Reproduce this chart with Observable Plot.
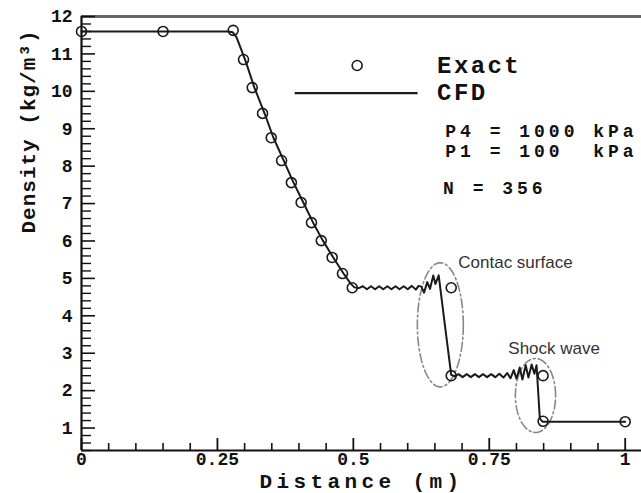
<!DOCTYPE html>
<html>
<head>
<meta charset="utf-8">
<script src="https://cdn.jsdelivr.net/npm/d3@7"></script>
<script src="https://cdn.jsdelivr.net/npm/@observablehq/plot@0.6"></script>
<style>
  html, body { margin: 0; padding: 0; background: #fff; }
  #chart { width: 641px; height: 493px; overflow: hidden; }
</style>
</head>
<body>
<div id="chart"></div>
<script>
// Shock tube density profile: exact solution (circles) vs CFD result (line)

// Exact solution samples
const exactX = [0, 0.15, 0.279, 0.298, 0.314, 0.333, 0.349, 0.368, 0.386, 0.404, 0.423,
                0.441, 0.461, 0.480, 0.498, 0.680, 0.680, 0.849, 0.849, 1.0];
const exactY = [11.6, 11.6, 11.63, 10.85, 10.10, 9.41, 8.76, 8.15, 7.56, 7.03, 6.49,
                6.01, 5.56, 5.13, 4.75, 4.75, 2.40, 2.40, 1.18, 1.17];

// CFD density profile (N = 356)
const cfdX = [0, 0.27, 0.278, 0.285, 0.293, 0.302, 0.318, 0.337, 0.353, 0.372, 0.390,
              0.408, 0.426, 0.444, 0.463, 0.482, 0.495, 0.502, 0.510,
              0.5175, 0.525, 0.5325, 0.540, 0.5475, 0.555, 0.5625, 0.570, 0.5775, 0.585,
              0.5925, 0.600, 0.6075, 0.615, 0.620, 0.625, 0.630, 0.636, 0.641, 0.647,
              0.651, 0.657, 0.668, 0.680, 0.686,
              0.6935, 0.701, 0.7085, 0.716, 0.7235, 0.731, 0.7385, 0.746, 0.7535, 0.761,
              0.7685, 0.776, 0.783, 0.789, 0.795, 0.800, 0.806, 0.811, 0.817, 0.822,
              0.828, 0.833, 0.837, 0.843, 0.848, 1.0];
const cfdY = [11.6, 11.6, 11.58, 11.45, 11.15, 10.8, 10.1, 9.4, 8.76, 8.15, 7.56,
              7.03, 6.49, 6.01, 5.56, 5.13, 4.86, 4.76, 4.74,
              4.79, 4.71, 4.79, 4.71, 4.79, 4.71, 4.79, 4.71, 4.79, 4.71,
              4.79, 4.71, 4.80, 4.70, 4.80, 4.78, 4.62, 4.90, 4.72, 5.08,
              4.85, 5.08, 3.80, 2.42, 2.38,
              2.44, 2.36, 2.44, 2.36, 2.44, 2.36, 2.44, 2.36, 2.44, 2.36,
              2.45, 2.35, 2.47, 2.33, 2.55, 2.32, 2.62, 2.30, 2.68, 2.35,
              2.70, 2.45, 2.68, 1.25, 1.17, 1.17];

// Axis ticks
const xTickValues = [0, 0.25, 0.5, 0.75, 1];
const xTickLabels = ["0", "0.25", "0.5", "0.75", "1"];
const yTickValues = [1, 2, 3, 4, 5, 6, 7, 8, 9, 10, 11, 12];
const yTickLabels = ["1", "2", "3", "4", "5", "6", "7", "8", "9", "10", "11", "12"];

// Legend and run parameters
const legendLabels = ["Exact", "CFD"];
const paramLines = ["P4 = 1000 kPa", "P1 = 100  kPa"];
const gridLine = "N = 356";
const notes = ["Contac surface", "Shock wave"];
const xTitle = "Distance (m)";
const yTitle = "Density (kg/m³)";

const exact = exactX.map((x, i) => ({x, y: exactY[i]}));
const cfd = cfdX.map((x, i) => ({x, y: cfdY[i]}));

const xMinor = d3.range(1, 21).map(i => i / 20).filter(v => !xTickValues.includes(v));
const yMinor = d3.range(2, 60).map(i => i / 5).filter(v => !Number.isInteger(v));

// Dash-dot ellipses around the contact surface and the shock
function ellipse(cx, cy, rx, ry, id) {
  return d3.range(0, 73).map(i => {
    const t = (i / 72) * 2 * Math.PI;
    return {x: cx + rx * Math.cos(t), y: cy + ry * Math.sin(t), id};
  });
}
const rings = [
  ...ellipse(0.660, 3.76, 0.0423, 1.66, "contact"),
  ...ellipse(0.835, 1.87, 0.037, 0.99, "shock")
];

const mono = "'Liberation Mono', 'DejaVu Sans Mono', monospace";
const sans = "'Liberation Sans', Arial, sans-serif";
const ink = "#111";

const monoText = (label, size, opts) =>
  Plot.text([label], {textAnchor: "start", lineAnchor: "middle", fontSize: size,
    fontWeight: "bold", fontFamily: mono, fill: ink, ...opts});

const chart = Plot.plot({
  width: 641,
  height: 493,
  marginLeft: 81,
  marginRight: 0,
  marginTop: 16,
  marginBottom: 43,
  x: {domain: [0, 1.03]},
  y: {domain: [0.4, 12]},
  style: {background: "#fff", color: ink, fontFamily: mono},
  marks: [
    // frame lines
    Plot.ruleY([12], {stroke: "#666", strokeWidth: 3}),
    Plot.ruleY([0.4], {stroke: ink, strokeWidth: 2.2}),
    Plot.ruleX([0], {stroke: ink, strokeWidth: 2.2}),

    // inward ticks
    Plot.axisX({ticks: xMinor, tickSize: -7, tickFormat: () => "", label: null, strokeWidth: 1.6}),
    Plot.axisX({ticks: xTickValues, tickSize: -12, tickFormat: () => "", label: null, strokeWidth: 1.8}),
    Plot.axisY({ticks: yMinor, tickSize: -10, tickFormat: () => "", label: null, strokeWidth: 1.4}),
    Plot.axisY({ticks: yTickValues, tickSize: -14, tickFormat: () => "", label: null, strokeWidth: 1.6}),

    // tick labels
    Plot.axisX({ticks: xTickValues, tickSize: 0, tickPadding: 2, label: null,
      tickFormat: d => xTickLabels[xTickValues.indexOf(d)],
      fontSize: 18, fontWeight: "bold", fontFamily: mono}),
    Plot.axisY({ticks: yTickValues, tickSize: 0, tickPadding: 9, label: null,
      tickFormat: d => yTickLabels[yTickValues.indexOf(d)],
      fontSize: 18, fontWeight: "bold", fontFamily: mono}),

    // axis titles
    Plot.text([xTitle], {frameAnchor: "bottom", dy: 31, lineAnchor: "middle",
      fontSize: 21, fontWeight: "bold", fontFamily: mono, fill: ink}),
    Plot.text([yTitle], {frameAnchor: "left", dx: -53, rotate: -90, lineAnchor: "middle",
      fontSize: 21, fontWeight: "bold", fontFamily: mono, fill: ink}),

    // annotation ellipses
    Plot.line(rings, {x: "x", y: "y", z: "id", stroke: "#888", strokeWidth: 1.6,
      strokeDasharray: "9,3,2,3"}),

    // CFD line and exact circles
    Plot.line(cfd, {x: "x", y: "y", stroke: "#1a1a1a", strokeWidth: 2}),
    Plot.dot(exact, {x: "x", y: "y", r: 5, stroke: "#1a1a1a", strokeWidth: 1.6, fill: "none"}),

    // legend
    Plot.dot([0], {x: 0.507, y: 10.69, r: 5, stroke: "#1a1a1a", strokeWidth: 1.6, fill: "none"}),
    Plot.ruleY([9.95], {x1: 0.393, x2: 0.619, stroke: "#1a1a1a", strokeWidth: 2.2}),
    monoText(legendLabels[0], 24, {x: 0.654, y: 10.69}),
    monoText(legendLabels[1], 24, {x: 0.654, y: 9.97}),

    // run parameters
    monoText(paramLines[0], 18, {x: 0.669, y: 8.93}),
    monoText(paramLines[1], 18, {x: 0.669, y: 8.40}),
    monoText(gridLine, 18, {x: 0.665, y: 7.40}),

    // feature notes
    Plot.text([notes[0]], {x: 0.693, y: 5.42, textAnchor: "start", lineAnchor: "middle",
      fontSize: 17, fontFamily: sans, fill: "#333"}),
    Plot.text([notes[1]], {x: 0.785, y: 3.12, textAnchor: "start", lineAnchor: "middle",
      fontSize: 17, fontFamily: sans, fill: "#333"})
  ]
});

// Courier-style wide spacing for the monospaced labels
const spacing = new Map([
  [legendLabels[0], 2.4], [legendLabels[1], 2.4],
  [paramLines[0], 4.0], [paramLines[1], 4.0], [gridLine, 4.0],
  [xTitle, 4.4], [yTitle, 1.0]
]);
d3.select(chart).selectAll("text").each(function () {
  const s = spacing.get(this.textContent);
  if (s != null) this.style.letterSpacing = s + "px";
});

document.getElementById("chart").append(chart);
</script>
</body>
</html>
